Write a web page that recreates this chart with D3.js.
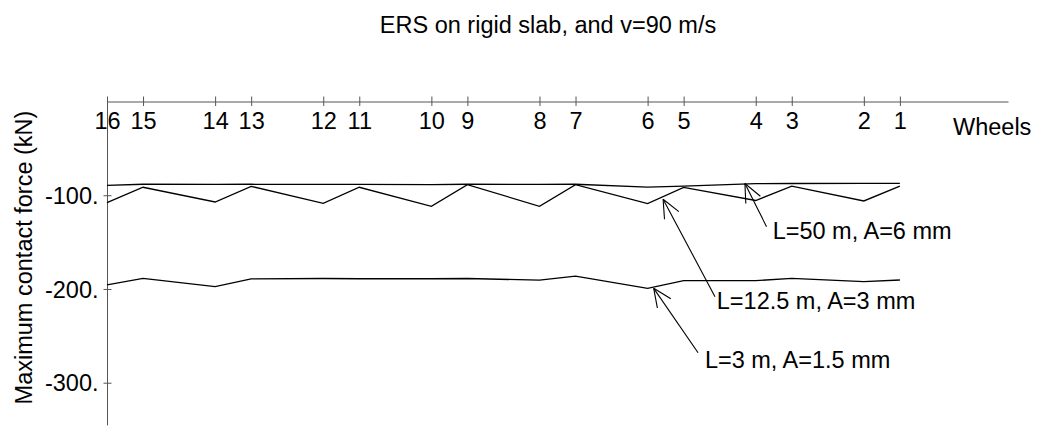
<!DOCTYPE html>
<html>
    <head>
        <title>ERS on rigid slab</title>
        <script src="https://d3js.org/d3.v7.min.js" charset="utf-8"></script>
        <style>
            body {
                margin: 0;
                background: white;
                font-family: "Liberation Sans", Arial, sans-serif;
            }
            .lbl {
                font-size: 23.5px;
                fill: #000;
            }
            .axis path, .axis line {
                stroke: #555;
                stroke-width: 1;
            }
        </style>
    </head>

    <body>
        <script>
            // wheel numbers and their position along the train (bogie spacing units)
            var wheels   = [1, 2, 3, 4, 5, 6, 7, 8, 9, 10, 11, 12, 13, 14, 15, 16];
            var wheelPos = [0, 1, 3, 4, 6, 7, 9, 10, 12, 13, 15, 16, 18, 19, 21, 22];

            // max contact force (kN) per wheel, for each irregularity
            var force50  = [-87.3, -87.3, -87.5, -87.7, -90.3, -91.3, -88.3, -88.5, -88.3, -88.6, -88.4, -88.5, -88.3, -88.5, -88.3, -89.4];
            var force125 = [-90.3, -106.1, -90.3, -105.6, -91.7, -109, -88.7, -111.8, -88.7, -111.8, -91.5, -108.6, -90.5, -107.2, -91.5, -107.9];
            var force3   = [-190.4, -192.2, -188.6, -191.1, -191.1, -199.3, -186.3, -190.6, -188.8, -189.1, -189.1, -188.8, -189.3, -197.5, -188.6, -195.7];

            var yTicks = [-100, -200, -300];

            // annotations: text, arrow tip, arrow tail, text anchor (data units)
            var noteText = ["L=50 m, A=6 mm", "L=12.5 m, A=3 mm", "L=3 m, A=1.5 mm"];
            var noteTip  = [[4.30, -87.5], [6.57, -104.3], [6.83, -199.3]];
            var noteTail = [[3.70, -133.5], [5.13, -208.2], [5.60, -268]];
            var noteAt   = [[3.53, -147], [5.08, -221.7], [5.41, -284.6]];

            var width = 1038;
            var height = 426;

            var svg = d3.select("body")
                .append("svg")
                .attr("width", width)
                .attr("height", height);

            var x = d3.scaleLinear().domain([22, -3]).range([107, 1008]);
            var y = d3.scaleLinear().domain([0, -345]).range([101.5, 424.9]);

            // title
            svg.append("text")
                .attr("class", "lbl")
                .attr("x", 548)
                .attr("y", 33)
                .attr("text-anchor", "middle")
                .text("ERS on rigid slab, and v=90 m/s");

            // top axis (wheels)
            var xAxis = d3.axisBottom(x)
                .tickValues(wheelPos)
                .tickFormat(function(d) { return wheels[wheelPos.indexOf(d)]; })
                .tickSizeOuter(0);

            var gx = svg.append("g")
                .attr("class", "axis")
                .attr("transform", "translate(0," + y(0) + ")")
                .call(xAxis);
            gx.selectAll(".tick line").attr("y1", -5).attr("y2", 4.5);
            gx.selectAll(".tick text")
                .attr("class", "lbl")
                .attr("y", 27.5)
                .attr("dy", null)
                .style("font-family", null)
                .attr("font-family", null)
                .attr("font-size", null);
            gx.attr("font-size", null).attr("font-family", null);

            svg.append("text")
                .attr("class", "lbl")
                .attr("x", 953)
                .attr("y", 135)
                .text("Wheels");

            // left axis
            var yAxis = d3.axisLeft(y)
                .tickValues(yTicks)
                .tickFormat(function(d) { return d + "."; })
                .tickSizeOuter(0);

            var gy = svg.append("g")
                .attr("class", "axis")
                .attr("transform", "translate(" + x(22) + ",0)")
                .call(yAxis);
            gy.attr("font-size", null).attr("font-family", null);
            gy.selectAll(".tick line").attr("x1", -3.5).attr("x2", 4.5);
            gy.selectAll(".tick text")
                .attr("class", "lbl")
                .attr("x", -8.5)
                .attr("dy", "0.35em");

            svg.append("text")
                .attr("class", "lbl")
                .attr("transform", "translate(31.5,257.5) rotate(-90)")
                .attr("text-anchor", "middle")
                .text("Maximum contact force (kN)");

            // series lines
            var line = d3.line()
                .x(function(d) { return x(d[0]); })
                .y(function(d) { return y(d[1]); });

            [force50, force125, force3].forEach(function(s) {
                svg.append("path")
                    .datum(d3.zip(wheelPos, s))
                    .attr("fill", "none")
                    .attr("stroke", "#000")
                    .attr("stroke-width", 1.3)
                    .attr("d", line);
            });

            // arrows + labels
            noteText.forEach(function(t, i) {
                var tx = x(noteTip[i][0]), ty = y(noteTip[i][1]);
                var bx = x(noteTail[i][0]), by = y(noteTail[i][1]);
                var ang = Math.atan2(by - ty, bx - tx);
                var spread = 24 * Math.PI / 180, len = 20;
                var g = svg.append("g")
                    .attr("stroke", "#000")
                    .attr("stroke-width", 1.1)
                    .attr("fill", "none");
                g.append("line").attr("x1", tx).attr("y1", ty).attr("x2", bx).attr("y2", by);
                [-spread, spread].forEach(function(s) {
                    g.append("line")
                        .attr("x1", tx).attr("y1", ty)
                        .attr("x2", tx + len * Math.cos(ang + s))
                        .attr("y2", ty + len * Math.sin(ang + s));
                });
                svg.append("text")
                    .attr("class", "lbl")
                    .attr("x", x(noteAt[i][0]))
                    .attr("y", y(noteAt[i][1]))
                    .text(t);
            });
        </script>
    </body>
</html>
